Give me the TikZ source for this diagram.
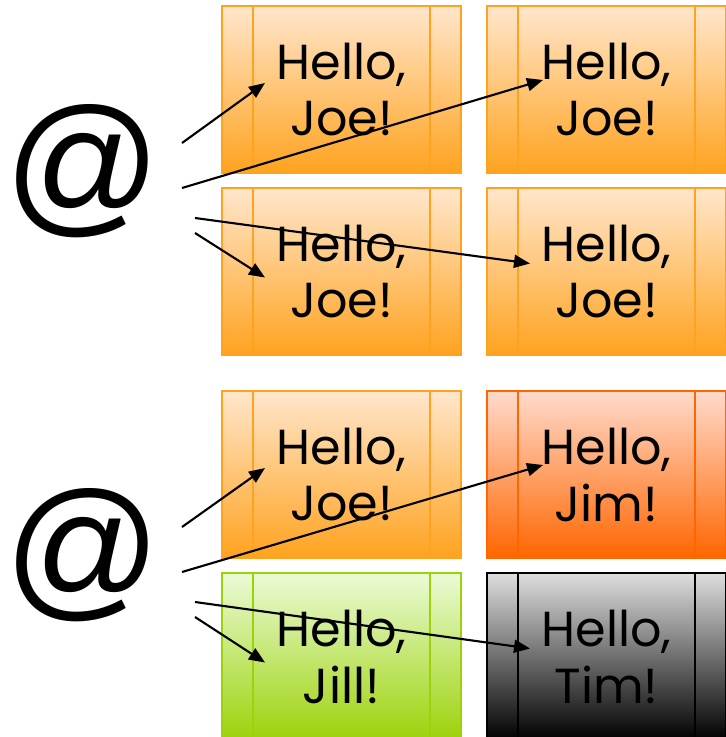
\documentclass[tikz,border=0pt]{standalone}
\usepackage{fontspec}
\setmainfont{Poppins}
\newfontfamily\atfont{Liberation Sans}
\usetikzlibrary{positioning,arrows.meta}

\definecolor{joeedge}{HTML}{FFA31F}
\definecolor{joetop}{HTML}{FFE6CC}
\definecolor{jimedge}{HTML}{FF6600}
\definecolor{jimtop}{HTML}{FFDACC}
\definecolor{jilledge}{HTML}{9CD20A}
\definecolor{jilltop}{HTML}{EBFBD6}
\definecolor{timedge}{HTML}{000000}
\definecolor{timtop}{HTML}{DEDEDE}

\begin{document}
\begin{tikzpicture}[node distance=0.15cm and 0.26cm]

    % Styles
    \tikzset{
      greeting/.style 2 args={rectangle, minimum width=2.39cm, minimum height=1.67cm,
        outer sep=0pt, align=center, draw=#1, line width=0.45pt, top color=#2, bottom color=#1,
        font=\fontsize{14}{16.2}\selectfont,
        path picture={
          \draw[#1, line width=0.45pt] ([xshift=0.31cm]path picture bounding box.north west)
            -- ([xshift=0.31cm]path picture bounding box.south west);
          \draw[#1, line width=0.45pt] ([xshift=-0.31cm]path picture bounding box.north east)
            -- ([xshift=-0.31cm]path picture bounding box.south east);
        }},
      atsign/.style={inner sep=0pt, font=\atfont\fontsize{44}{44}\selectfont},
      arrow/.style={line width=0.6pt, -{Triangle[length=0.16cm, width=0.13cm]}}
    }

    \useasboundingbox (0,0) rectangle (7.25,-7.37);

    % Noeuds - haut
    \node (mailA) [atsign] at (0.83,-1.71) {@};
    \node (joeA) [greeting={joeedge}{joetop}] at (3.415,-0.895) {Hello,\\Joe!};
    \node (joeB) [greeting={joeedge}{joetop}, right=of joeA] {Hello,\\Joe!};
    \node (joeC) [greeting={joeedge}{joetop}, below=of joeA] {Hello,\\Joe!};
    \node (joeD) [greeting={joeedge}{joetop}, below=of joeB] {Hello,\\Joe!};

    % Noeuds - bas
    \node (mailB) [atsign] at (0.83,-5.55) {@};
    \node (joeE) [greeting={joeedge}{joetop}, below=0.36cm of joeC] {Hello,\\Joe!};
    \node (jim) [greeting={jimedge}{jimtop}, right=of joeE] {Hello,\\Jim!};
    \node (jill) [greeting={jilledge}{jilltop}, below=of joeE] {Hello,\\Jill!};
    \node (tim) [greeting={timedge}{timtop}, below=of jim] {Hello,\\Tim!};

    % Flèches - haut
    \draw [arrow] ([shift={(0.99,0.28)}]mailA.center) -- ([shift={(-0.765,0.065)}]joeA.center);
    \draw [arrow] ([shift={(0.99,-0.17)}]mailA.center) -- ([shift={(-0.635,0.095)}]joeB.center);
    \draw [arrow] ([shift={(1.12,-0.47)}]mailA.center) -- ([shift={(-0.765,0.08)}]joeD.center);
    \draw [arrow] ([shift={(1.12,-0.62)}]mailA.center) -- ([shift={(-0.765,-0.06)}]joeC.center);

    % Flèches - bas
    \draw [arrow] ([shift={(0.99,0.28)}]mailB.center) -- ([shift={(-0.765,0.065)}]joeE.center);
    \draw [arrow] ([shift={(0.99,-0.17)}]mailB.center) -- ([shift={(-0.635,0.095)}]jim.center);
    \draw [arrow] ([shift={(1.12,-0.47)}]mailB.center) -- ([shift={(-0.765,0.08)}]tim.center);
    \draw [arrow] ([shift={(1.12,-0.62)}]mailB.center) -- ([shift={(-0.765,-0.06)}]jill.center);

\end{tikzpicture}
\end{document}
